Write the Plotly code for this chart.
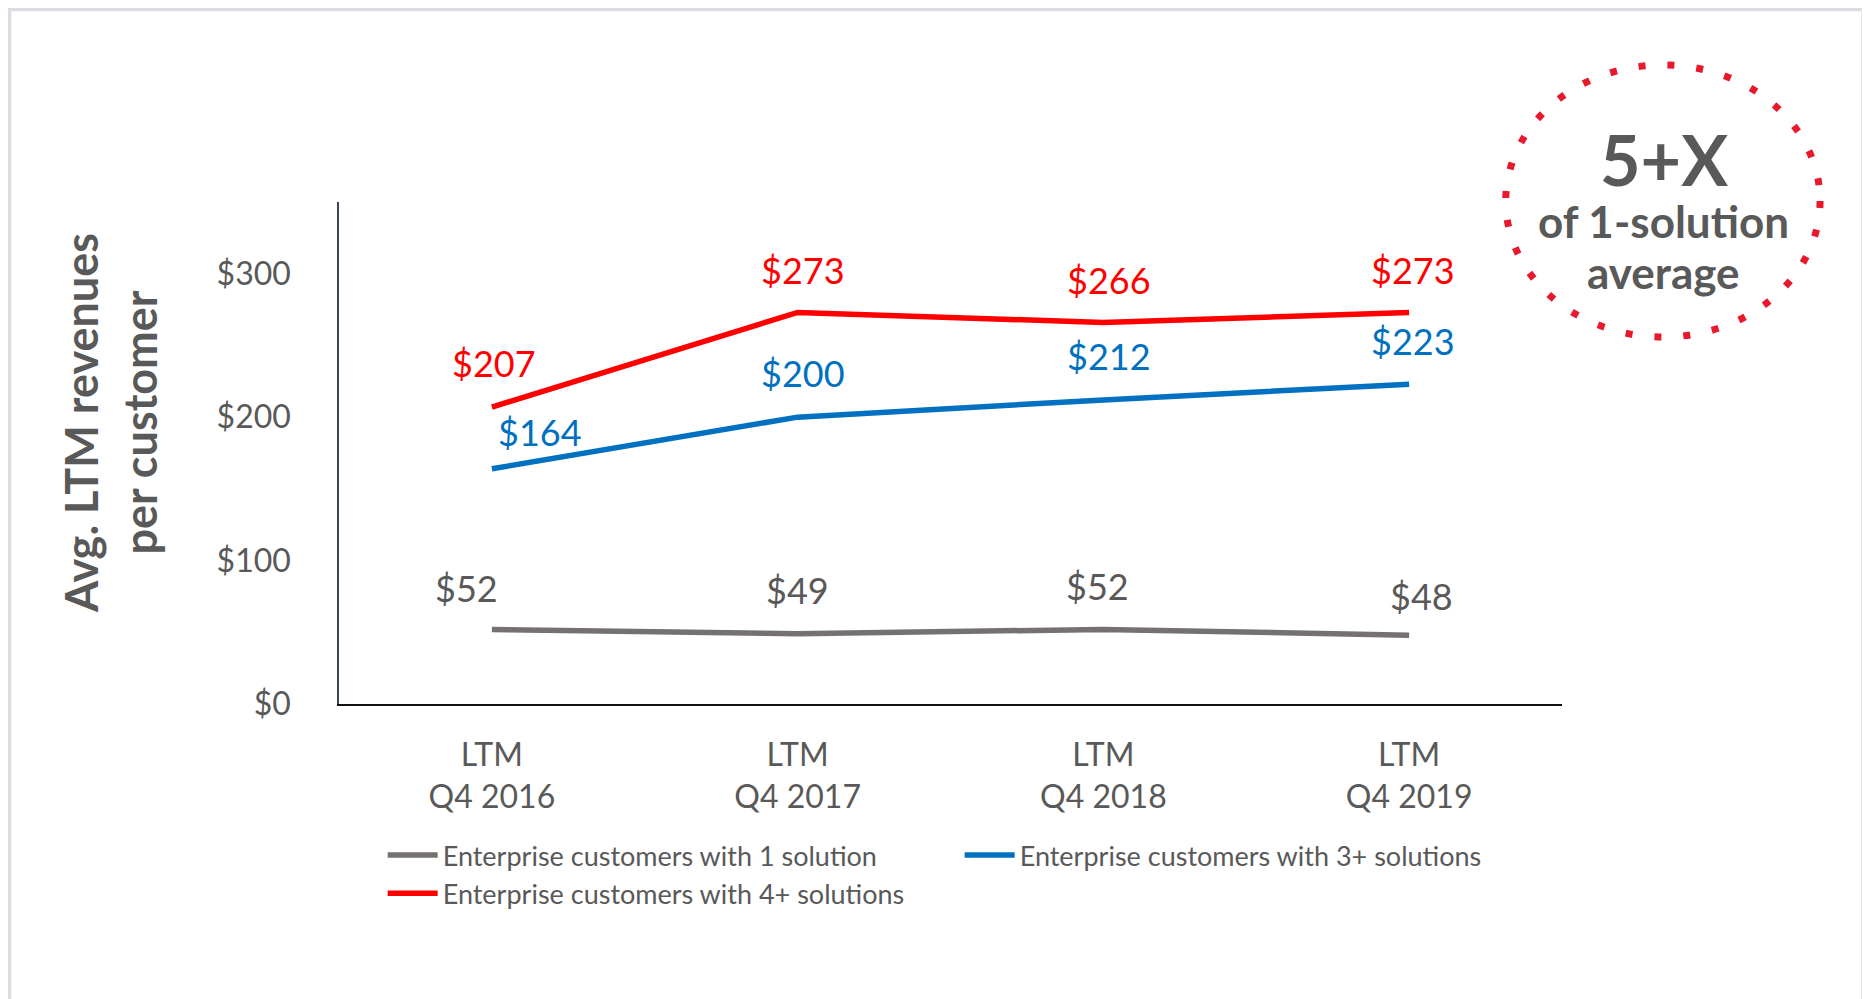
import plotly.graph_objects as go

############################################################
# DATA
############################################################

periods = ["LTM<br>Q4 2016", "LTM<br>Q4 2017", "LTM<br>Q4 2018", "LTM<br>Q4 2019"]

one_solution = [52, 49, 52, 48]
three_plus = [164, 200, 212, 223]
four_plus = [207, 273, 266, 273]

series_names = [
    "Enterprise customers with 1 solution",
    "Enterprise customers with 3+ solutions",
    "Enterprise customers with 4+ solutions",
]

y_ticks = [0, 100, 200, 300]

callout_lines = ["5+X", "of 1-solution", "average"]

############################################################
# STYLE
############################################################

FONT = "Lato"
TEXT_GREY = "#595959"
LINE_GREY = "#767171"
BLUE = "#0070C0"
RED = "#FF0000"

# label nudges (px) so the value labels sit like the original
label_nudges = {
    "grey": ([-25, 0, -6, 12], [41, 44, 43, 39]),
    "blue": ([48, 5, 6, 4], [37, 44, 44, 43]),
    "red": ([2, 5, 6, 4], [44, 42, 42, 42]),
}

############################################################
# FIGURE
############################################################

fig = go.Figure()

series = [
    (one_solution, series_names[0], LINE_GREY, TEXT_GREY, "grey"),
    (three_plus, series_names[1], BLUE, BLUE, "blue"),
    (four_plus, series_names[2], RED, RED, "red"),
]

for values, name, color, label_color, key in series:

    fig.add_trace(
        go.Scatter(
            x=periods,
            y=values,
            name=name,
            mode="lines",
            line=dict(color=color, width=5.5),
        )
    )

    dx, dy = label_nudges[key]

    for i, v in enumerate(values):
        fig.add_annotation(
            x=periods[i],
            y=v,
            text=f"${v}",
            showarrow=False,
            xanchor="center",
            yanchor="middle",
            xshift=dx[i],
            yshift=dy[i],
            font=dict(family=FONT, size=36, color=label_color),
        )

# y axis title (two lines, bold)
fig.add_annotation(
    xref="paper",
    yref="paper",
    x=-0.1864,
    y=0.56,
    xanchor="center",
    yanchor="middle",
    text="<b>Avg. LTM revenues<br>per customer</b>",
    textangle=-90,
    showarrow=False,
    font=dict(family=FONT, size=45, color=TEXT_GREY),
)

# dotted callout circle
fig.add_shape(
    type="circle",
    xref="paper",
    yref="paper",
    x0=0.954,
    x1=1.211,
    y0=0.731,
    y1=1.273,
    line=dict(color="#E8192C", width=7, dash="7px,22px"),
)

callout_y = [1.086, 0.962, 0.861]
callout_size = [70, 44, 44]

for text, yy, size in zip(callout_lines, callout_y, callout_size):
    fig.add_annotation(
        xref="paper", yref="paper",
        x=1.0834, y=yy,
        xanchor="center", yanchor="middle",
        text=f"<b>{text}</b>",
        showarrow=False,
        font=dict(family=FONT, size=size, color=TEXT_GREY),
    )

# outer light border (bottom edge runs off the page, as in the original)
fig.add_shape(
    type="rect",
    xref="paper",
    yref="paper",
    x0=-0.2694,
    x1=1.2461,
    y0=-0.6056,
    y1=1.3835,
    line=dict(color="#DCDDE2", width=3.5),
)

# page body has an 8px margin, so the figure is 8px smaller than the window
fig.update_layout(
    width=1862,
    height=991,
    margin=dict(l=331, r=308, t=194, b=295),
    paper_bgcolor="white",
    plot_bgcolor="white",
    font=dict(family=FONT, color=TEXT_GREY),
    showlegend=True,
    legend=dict(
        orientation="h",
        x=0.0357,
        y=-0.253,
        xanchor="left",
        yanchor="top",
        entrywidth=512,
        entrywidthmode="pixels",
        itemwidth=50,
        font=dict(family=FONT, size=27, color=TEXT_GREY),
    ),
    xaxis=dict(
        range=[-0.5, 3.5],
        showgrid=False,
        showline=True,
        linecolor="#111111",
        linewidth=2,
        ticks="",
        ticklabelstandoff=22,
        tickfont=dict(family=FONT, size=32, color=TEXT_GREY),
        zeroline=False,
    ),
    yaxis=dict(
        range=[0, 350],
        tickvals=y_ticks,
        ticktext=[f"${v}" for v in y_ticks],
        showgrid=False,
        showline=True,
        linecolor="#3B4454",
        linewidth=1.5,
        ticks="",
        ticklabelstandoff=40,
        tickfont=dict(family=FONT, size=32, color=TEXT_GREY),
        zeroline=False,
    ),
)

fig.write_html("out.html")
